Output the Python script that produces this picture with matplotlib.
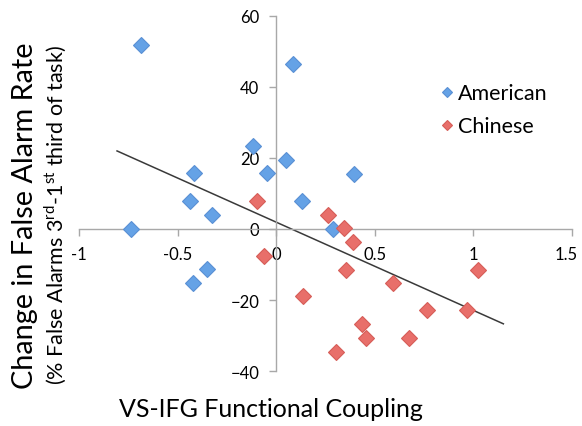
import numpy as np
import matplotlib.pyplot as plt
import matplotlib.transforms as mtransforms

plt.rcParams['font.family'] = ['Lato', 'DejaVu Sans']
plt.rcParams['mathtext.fontset'] = 'custom'
plt.rcParams['mathtext.rm'] = 'Lato'

# American group
am_x = [-0.685, 0.086, -0.117, 0.05, -0.046, -0.415, 0.396, 0.13, -0.437, -0.325, -0.736, 0.29, -0.35, -0.42]
am_y = [51.8, 46.5, 23.4, 19.5, 15.8, 15.8, 15.5, 7.9, 7.9, 3.9, 0.0, 0.0, -11.3, -15.2]

# Chinese group
ch_x = [-0.097, 0.264, 0.345, 0.39, -0.06, 0.355, 1.025, 0.594, 0.137, 0.766, 0.97, 0.437, 0.457, 0.675, 0.305]
ch_y = [7.9, 3.9, 0.3, -3.6, -7.6, -11.5, -11.5, -15.2, -18.9, -22.8, -22.8, -26.8, -30.7, -30.7, -34.6]

# trend line over the pooled sample
all_x = np.array(am_x + ch_x)
all_y = np.array(am_y + ch_y)
slope, icpt = np.polyfit(all_x, all_y, 1)
line_x = np.array([-0.807, 1.152])

fig = plt.figure(figsize=(5.82, 4.27), dpi=100)
ax = fig.add_axes([0.1357, 0.1288, 0.8471, 0.8314])

ax.plot(am_x, am_y, 'D', ms=8, color='#65a2e6', mec='#5a90d4', mew=0.8, label='American', zorder=3)
ax.plot(ch_x, ch_y, 'D', ms=8, color='#e86f6a', mec='#d65d58', mew=0.8, label='Chinese', zorder=3)
ax.plot(line_x, slope * line_x + icpt, color='#3a3a3a', lw=1.1, zorder=2)

ax.set_xlim(-1, 1.5)
ax.set_ylim(-40, 60)
ax.set_xticks([-1, -0.5, 0, 0.5, 1, 1.5])
ax.set_xticklabels(['-1', '-0.5', '0', '0.5', '1', '1.5'])
ax.set_yticks([-40, -20, 0, 20, 40, 60])

ax.spines['left'].set_position(('data', 0))
ax.spines['bottom'].set_position(('data', 0))
ax.spines['right'].set_visible(False)
ax.spines['top'].set_visible(False)
for s in ['left', 'bottom']:
    ax.spines[s].set_color('#a8a8a8')
    ax.spines[s].set_linewidth(1.0)
ax.tick_params(axis='both', direction='out', length=5, width=1.0, color='#a8a8a8',
               labelsize=12, pad=7)
# nudge the last x label a few pixels left so it stays on the canvas
last = ax.get_xticklabels()[-1]
last.set_transform(last.get_transform() + mtransforms.ScaledTranslation(-4 / 72, 0, fig.dpi_scale_trans))

fig.text(0.043, 0.494, 'Change in False Alarm Rate', rotation=90, ha='center', va='center', fontsize=20.8)
fig.text(0.095, 0.497, r'(% False Alarms 3$^{\rm rd}$-1$^{\rm st}$ third of task)', rotation=90,
         ha='center', va='center', fontsize=15.5)
fig.text(0.465, 0.04, 'VS-IFG Functional Coupling', ha='center', va='center', fontsize=18)

ax.legend(loc='upper left', bbox_to_anchor=(0.734, 0.828), bbox_transform=fig.transFigure,
          frameon=False, fontsize=15.5, handletextpad=0.12, labelspacing=0.6, borderpad=0,
          handlelength=0.8, markerscale=0.7)

fig.savefig('out.png', dpi=100)
